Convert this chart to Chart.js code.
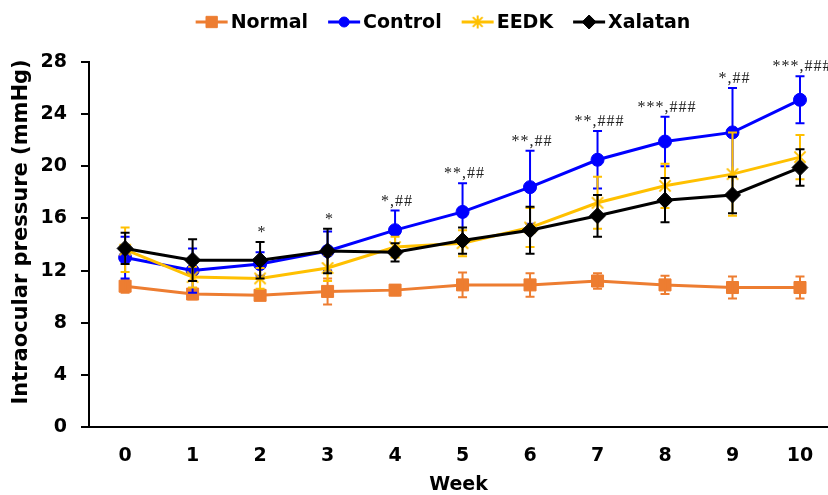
<!DOCTYPE html>
<html><head><meta charset="utf-8">
<script src="https://cdn.jsdelivr.net/npm/chart.js@4"></script>
<style>html,body{margin:0;padding:0;background:#fff}</style>
</head><body>
<canvas id="c" width="828" height="495" style="width:828px;height:495px;display:block"></canvas>
<script>
const weeks = [0,1,2,3,4,5,6,7,8,9,10];
const yTicks = [0,4,8,12,16,20,24,28];
const seriesNames = ['Normal','Control','EEDK','Xalatan'];
const normal     = [10.8,10.2,10.1,10.4,10.5,10.9,10.9,11.2,10.9,10.7,10.7];
const normalErr  = [0.5,0.4,0.3,1.0,0.4,0.95,0.9,0.6,0.7,0.85,0.85];
const control    = [13.0,12.0,12.5,13.5,15.1,16.5,18.4,20.5,21.9,22.6,25.1];
const controlErr = [1.6,1.7,0.9,1.5,1.5,2.2,2.8,2.2,1.9,3.4,1.8];
const eedk       = [13.6,11.5,11.4,12.2,13.8,14.1,15.3,17.2,18.5,19.4,20.7];
const eedkErr    = [1.7,0.8,0.8,1.0,0.8,1.0,1.5,2.0,1.7,3.2,1.7];
const xalatan    = [13.7,12.8,12.8,13.5,13.4,14.3,15.1,16.2,17.4,17.8,19.9];
const xalatanErr = [1.2,1.6,1.4,1.7,0.7,1.0,1.8,1.6,1.7,1.4,1.4];
const signif     = ['','','*','*','*,##','**,##','**,##','**,###','***,###','*,##','***,###'];
const yTitle = 'Intraocular pressure (mmHg)';
const xTitle = 'Week';

const ORANGE = '#ED7D31', BLUE = '#0000FF', YELLOW = '#FFC000', BLACK = '#000000';
const FONT = '"DejaVu Sans", sans-serif';

function starImage(size, color) {
  const c = document.createElement('canvas');
  c.width = size; c.height = size;
  const g = c.getContext('2d');
  g.strokeStyle = color; g.lineWidth = 2; g.lineCap = 'butt';
  const m = size / 2, r = size / 2 - 1.5, d = r * 0.75;
  g.beginPath();
  g.moveTo(m - d, m - d); g.lineTo(m + d, m + d);
  g.moveTo(m + d, m - d); g.lineTo(m - d, m + d);
  g.moveTo(m, m - r); g.lineTo(m, m + r);
  g.stroke();
  return c;
}
const starPt = starImage(18, YELLOW);
const starLeg = starImage(16, YELLOW);

function pts(vals) { return weeks.map((w, i) => ({x: w, y: vals[i]})); }

function mkDs(label, vals, errs, color, style, radius, order, legStyle, legR) {
  return {
    label, data: pts(vals), errors: errs,
    borderColor: color, backgroundColor: color,
    pointBackgroundColor: color, pointBorderColor: color,
    pointStyle: style, pointRadius: radius, pointHoverRadius: radius,
    pointBorderWidth: 1, borderWidth: 3, tension: 0, order, clip: false,
    legStyle: legStyle, legR: legR
  };
}

const datasets = [
  mkDs(seriesNames[0], normal, normalErr, ORANGE, 'rect', 8.5, 4, 'rect', 8),
  mkDs(seriesNames[1], control, controlErr, BLUE, 'circle', 6.5, 3, 'circle', 5),
  mkDs(seriesNames[2], eedk, eedkErr, YELLOW, starPt, 9, 2, starLeg, 8),
  mkDs(seriesNames[3], xalatan, xalatanErr, BLACK, 'rectRot', 8, 1, 'rectRot', 7)
];

const errPlugin = {
  id: 'errbars',
  afterDatasetDraw(chart, args) {
    const ds = chart.data.datasets[args.index];
    const ys = chart.scales.y, ctx = chart.ctx;
    ctx.save();
    ctx.strokeStyle = ds.borderColor; ctx.lineWidth = 2;
    args.meta.data.forEach((pt, i) => {
      const v = ds.data[i].y, e = ds.errors[i];
      const t = ys.getPixelForValue(v + e), b = ys.getPixelForValue(v - e);
      const x = pt.x;
      ctx.beginPath();
      ctx.moveTo(x, t); ctx.lineTo(x, b);
      ctx.moveTo(x - 4.5, t); ctx.lineTo(x + 4.5, t);
      ctx.moveTo(x - 4.5, b); ctx.lineTo(x + 4.5, b);
      ctx.stroke();
    });
    ctx.restore();
  }
};

const annPlugin = {
  id: 'ann',
  afterDatasetsDraw(chart) {
    const ctx = chart.ctx, xs = chart.scales.x, ys = chart.scales.y;
    ctx.save();
    ctx.font = '16px "Liberation Serif", serif';
    try { ctx.letterSpacing = '1px'; } catch (e) {}
    ctx.fillStyle = '#222'; ctx.textAlign = 'center'; ctx.textBaseline = 'alphabetic';
    weeks.forEach((w, i) => {
      if (!signif[i]) return;
      let hi = -Infinity;
      chart.data.datasets.forEach(d => { hi = Math.max(hi, d.data[i].y + d.errors[i]); });
      const top = ys.getPixelForValue(hi);
      ctx.fillText(signif[i], xs.getPixelForValue(w) + 2, top - 5);
    });
    ctx.restore();
  }
};

function drawMarker(ctx, style, r, x, y, color) {
  ctx.fillStyle = color; ctx.strokeStyle = color; ctx.lineWidth = 1;
  if (typeof style !== 'string') { ctx.drawImage(style, x - style.width / 2, y - style.height / 2); return; }
  ctx.beginPath();
  if (style === 'rect') { const s = r * Math.SQRT1_2; ctx.rect(x - s, y - s, 2 * s, 2 * s); }
  else if (style === 'circle') { ctx.arc(x, y, r, 0, Math.PI * 2); }
  else if (style === 'rectRot') { ctx.moveTo(x, y - r); ctx.lineTo(x + r, y); ctx.lineTo(x, y + r); ctx.lineTo(x - r, y); ctx.closePath(); }
  ctx.fill(); ctx.stroke();
}

const legendPlugin = {
  id: 'customLegend',
  afterDraw(chart) {
    const ctx = chart.ctx;
    ctx.save();
    ctx.font = 'bold 19px ' + FONT;
    const lineLen = 32, gapLT = 3, gapItem = 20, cy = 22;
    const dss = chart.data.datasets;
    const widths = dss.map(d => ctx.measureText(d.label).width);
    const total = widths.reduce((s, w) => s + lineLen + gapLT + w, 0) + gapItem * (dss.length - 1);
    let x = 443 - total / 2;
    dss.forEach((d, i) => {
      ctx.strokeStyle = d.borderColor; ctx.lineWidth = 3;
      ctx.beginPath(); ctx.moveTo(x, cy); ctx.lineTo(x + lineLen, cy); ctx.stroke();
      drawMarker(ctx, d.legStyle, d.legR, x + lineLen / 2, cy, d.borderColor);
      ctx.fillStyle = '#000'; ctx.textAlign = 'left'; ctx.textBaseline = 'middle';
      ctx.fillText(d.label, x + lineLen + gapLT, cy + 1);
      x += lineLen + gapLT + widths[i] + gapItem;
    });
    ctx.font = 'bold 21px ' + FONT;
    ctx.translate(22, 232);
    ctx.rotate(-Math.PI / 2);
    ctx.textAlign = 'center'; ctx.textBaseline = 'middle';
    ctx.fillText(yTitle, 0, 0);
    ctx.restore();
  }
};

new Chart(document.getElementById('c'), {
  type: 'line',
  data: { datasets },
  options: {
    responsive: false, animation: false, devicePixelRatio: 1,
    layout: { autoPadding: false, padding: { top: 62, left: 0, right: 0, bottom: 0 } },
    plugins: { legend: { display: false }, tooltip: { enabled: false } },
    scales: {
      x: {
        type: 'linear', min: -0.535, max: 10.415,
        afterBuildTicks: s => { s.ticks = weeks.map(v => ({value: v})); },
        afterFit: s => { s.height = 68; },
        grid: { display: false },
        border: { display: true, color: '#000', width: 2 },
        ticks: { color: '#000', font: { family: FONT, size: 19, weight: 'bold' }, padding: 10, maxRotation: 0, autoSkip: false },
        title: { display: true, text: xTitle, color: '#000', font: { family: FONT, size: 19, weight: 'bold', lineHeight: 1 }, padding: { top: 0, bottom: 0 } }
      },
      y: {
        type: 'linear', min: 0, max: 28,
        afterBuildTicks: s => { s.ticks = yTicks.map(v => ({value: v})); },
        afterFit: s => { s.width = 89; },
        grid: { display: true, drawOnChartArea: false, drawTicks: true, tickLength: 8, color: '#000', lineWidth: 2 },
        border: { display: true, color: '#000', width: 2 },
        ticks: { color: '#000', font: { family: FONT, size: 19, weight: 'bold' }, padding: 14 },
        title: { display: false }
      }
    }
  },
  plugins: [errPlugin, annPlugin, legendPlugin]
});
</script>
</body></html>
